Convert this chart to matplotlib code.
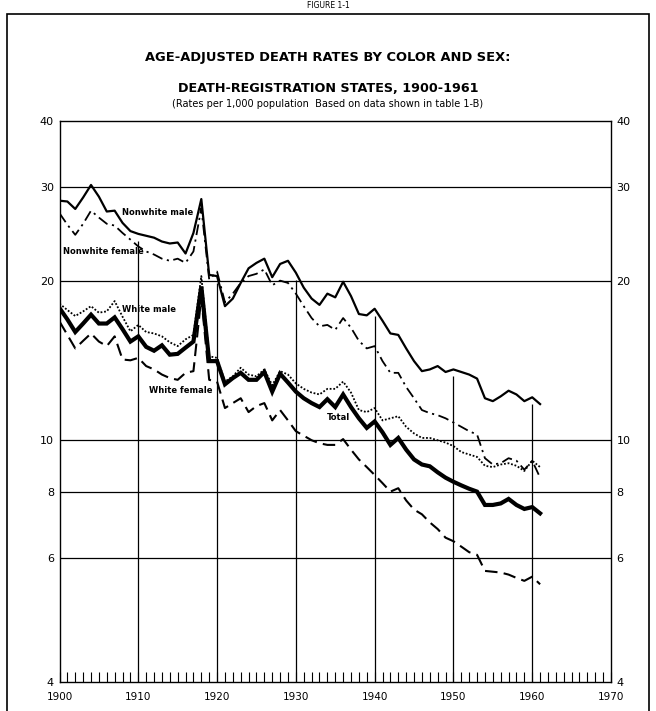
import numpy as np
import matplotlib
matplotlib.use("Agg")
import matplotlib.pyplot as plt
from matplotlib.patches import Rectangle
from matplotlib.ticker import MultipleLocator, NullLocator

plt.rcParams['font.family'] = ['DejaVu Sans']

################### Datos (tasas por 1.000) ###################
years = list(range(1900, 1962))

nonwhite_male = [28.3, 28.2, 27.3, 28.7, 30.3, 28.8, 27.0, 27.1, 25.7, 24.8,
                 24.5, 24.3, 24.1, 23.7, 23.5, 23.6, 22.5, 24.6, 28.5, 20.5,
                 20.4, 17.9, 18.5, 19.8, 21.1, 21.6, 22.0, 20.3, 21.5, 21.8,
                 20.7, 19.4, 18.5, 18.0, 18.9, 18.6, 19.9, 18.7, 17.3, 17.2,
                 17.7, 16.8, 15.9, 15.8, 14.9, 14.1, 13.5, 13.6, 13.8, 13.45,
                 13.6, 13.45, 13.3, 13.07, 12.0, 11.85, 12.1, 12.4, 12.2, 11.85,
                 12.05, 11.7]

nonwhite_female = [26.8, 25.5, 24.4, 25.6, 27.1, 26.3, 25.6, 25.4, 24.6, 23.9,
                   23.2, 22.7, 22.4, 22.0, 21.8, 22.0, 21.6, 22.7, 27.4, 20.1,
                   20.8, 18.2, 18.9, 19.8, 20.4, 20.6, 21.0, 19.6, 20.0, 19.8,
                   18.9, 17.9, 17.0, 16.4, 16.5, 16.15, 17.0, 16.3, 15.4, 14.9,
                   15.05, 14.1, 13.4, 13.4, 12.6, 12.0, 11.4, 11.25, 11.15, 11.0,
                   10.8, 10.6, 10.4, 10.25, 9.25, 9.0, 9.05, 9.25, 9.15, 8.8,
                   9.15, 8.5]

white_male = [18.1, 17.6, 17.15, 17.5, 17.9, 17.4, 17.5, 18.3, 17.1, 16.05,
              16.5, 16.0, 15.9, 15.7, 15.3, 15.05, 15.5, 15.8, 20.4, 14.4,
              14.3, 12.9, 13.2, 13.7, 13.3, 13.2, 13.6, 12.7, 13.5, 13.3,
              12.8, 12.5, 12.3, 12.2, 12.5, 12.5, 12.9, 12.3, 11.4, 11.3,
              11.5, 10.9, 11.0, 11.1, 10.6, 10.3, 10.1, 10.1, 10.0, 9.9,
              9.75, 9.5, 9.4, 9.3, 8.95, 8.9, 9.0, 9.05, 8.95, 8.75,
              9.15, 8.9]

total = [17.75, 16.9, 16.0, 16.6, 17.25, 16.6, 16.6, 17.05, 16.2, 15.35,
         15.7, 15.0, 14.75, 15.1, 14.5, 14.55, 14.95, 15.35, 19.5, 14.1,
         14.1, 12.75, 13.1, 13.4, 13.0, 13.0, 13.45, 12.35, 13.35, 12.85,
         12.35, 12.0, 11.75, 11.55, 11.95, 11.55, 12.2, 11.55, 11.0, 10.55,
         10.85, 10.35, 9.8, 10.1, 9.6, 9.2, 9.0, 8.93, 8.7, 8.5,
         8.35, 8.22, 8.1, 8.0, 7.55, 7.55, 7.6, 7.75, 7.55, 7.42,
         7.48, 7.28]

white_female = [16.75, 15.8, 14.9, 15.4, 15.9, 15.35, 15.05, 15.7, 14.2, 14.15,
                14.3, 13.8, 13.6, 13.3, 13.1, 13.0, 13.4, 13.5, 18.6, 13.0,
                12.9, 11.5, 11.75, 12.0, 11.3, 11.6, 11.75, 10.9, 11.4, 10.9,
                10.4, 10.2, 10.0, 9.87, 9.8, 9.8, 10.05, 9.6, 9.2, 8.9,
                8.6, 8.3, 8.0, 8.12, 7.7, 7.4, 7.25, 7.0, 6.8, 6.55,
                6.45, 6.3, 6.15, 6.08, 5.67, 5.65, 5.63, 5.58, 5.5, 5.43,
                5.53, 5.35]

y_ticks = [4, 6, 8, 10, 20, 30, 40]
decades = list(range(1900, 1971, 10))

################### Escala vertical (log, con tramo final estirado) ###################
K = np.log10(5) - np.log10(3.5)


def fwd(y):
    y = np.asarray(y, float)
    with np.errstate(divide='ignore', invalid='ignore'):
        return np.where(y >= 5, np.log10(np.maximum(y, 1e-9)), np.log10(5) - (5 - y) * K)


def inv(p):
    p = np.asarray(p, float)
    with np.errstate(over='ignore'):
        return np.where(p >= np.log10(5), 10 ** p, 5 - (np.log10(5) - p) / K)


################### Figura ###################
W, H = 656, 711
fig = plt.figure(figsize=(W / 100, H / 100), dpi=100)
ax = fig.add_axes([59.5 / W, 1 - 682 / H, (611 - 59.5) / W, (682 - 121) / H])
ax.set_yscale('function', functions=(fwd, inv))
ax.set_ylim(4, 40)
ax.set_xlim(1900, 1970)

# rejilla
for v in [6, 8, 10, 20, 30]:
    ax.axhline(v, color='black', lw=0.9, zorder=1)
nm = dict(zip(years, nonwhite_male))
for d in decades[1:-1]:
    ax.vlines(d, 4, nm[d] * 0.97, color='black', lw=0.9, zorder=1)

# series
ax.plot(years, nonwhite_male, color='black', lw=1.6, zorder=3)
ax.plot(years, nonwhite_female, color='black', lw=1.3, ls=(0, (6, 2.5, 1.2, 2.5)), zorder=3)
ax.plot(years, white_male, color='black', lw=1.3, ls=(0, (1, 1)), zorder=3)
ax.plot(years, total, color='black', lw=3.0, zorder=4, solid_joinstyle='miter')
ax.plot(years, white_female, color='black', lw=1.5, ls=(0, (6, 3)), zorder=3)

# etiquetas de series
lab = dict(fontsize=6, fontweight='bold', ha='left', va='center', zorder=5)
ax.text(1907.9, 26.9, 'Nonwhite male', **lab)
ax.text(1900.4, 22.7, 'Nonwhite female', **lab)
ax.text(1907.9, 17.65, 'White male', **lab)
ax.text(1911.4, 12.4, 'White female', **lab)
ax.text(1934.0, 11.05, 'Total', **lab)

# ejes
ax.set_yticks(y_ticks)
ax.set_yticklabels([str(v) for v in y_ticks])
ax.yaxis.set_minor_locator(NullLocator())
ax.tick_params(axis='y', which='both', left=True, right=True, labelleft=True,
               labelright=True, length=0, pad=4, labelsize=8)
ax.set_xticks(decades)
ax.set_xticklabels([str(d) for d in decades])
ax.xaxis.set_minor_locator(MultipleLocator(1))
ax.tick_params(axis='x', which='both', direction='in', top=False, length=7,
               width=0.8, pad=7, labelsize=7.5)
for s in ax.spines.values():
    s.set_linewidth(1.0)

# marco y títulos
fig.add_artist(Rectangle((7 / W, -0.05), (649 - 7) / W, (H - 14) / H + 0.05,
                         transform=fig.transFigure, fill=False, lw=1.2, color='black'))
fig.text(0.5, 1 - 5 / H, 'FIGURE 1-1', ha='center', va='center', fontsize=5.5)
fig.text(0.5, 1 - 57 / H, 'AGE-ADJUSTED DEATH RATES BY COLOR AND SEX:',
         ha='center', va='center', fontsize=9.4, fontweight='bold')
fig.text(0.5, 1 - 88 / H, 'DEATH-REGISTRATION STATES, 1900-1961',
         ha='center', va='center', fontsize=9.2, fontweight='bold')
fig.text(0.5, 1 - 104 / H, '(Rates per 1,000 population  Based on data shown in table 1-B)',
         ha='center', va='center', fontsize=7)

fig.savefig('out.png', dpi=100)
